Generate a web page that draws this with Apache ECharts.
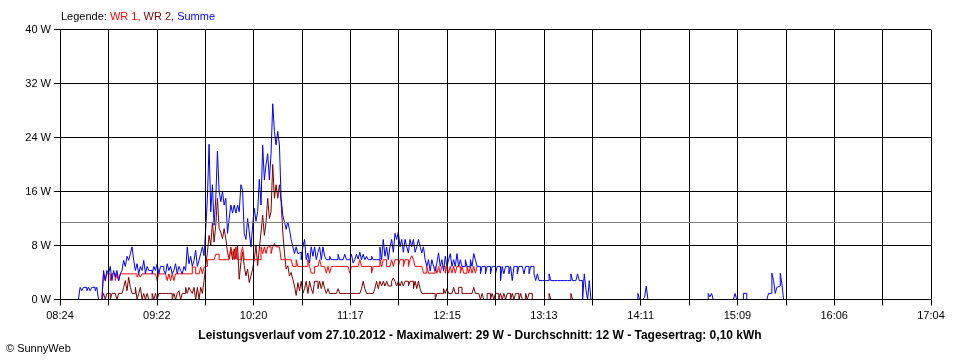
<!DOCTYPE html>
<html>
<head>
<meta charset="utf-8">
<title>Leistungsverlauf</title>
<script src="https://cdn.jsdelivr.net/npm/echarts@6/dist/echarts.min.js"></script>
<style>
  html, body { margin: 0; padding: 0; background: #fff; }
  #chart { width: 960px; height: 360px; }
</style>
</head>
<body>
<div id="chart"></div>
<script>
// ---- axis tick labels (x: every second grid line carries a label) ----
const tickLabels = ['08:24', '09:22', '10:20', '11:17', '12:15', '13:13', '14:11', '15:09', '16:06', '17:04'];
const axisSpanMinutes = 520;   // 08:24 .. 17:04
const gridDivisions = 18;      // vertical grid lines
const yTicks = [0, 8, 16, 24, 32, 40];

// samples: one value per minute, first sample at 08:24 (minute 0)
const sampleStartMinute = 0;
const sampleStepMinutes = 1;

// ---- Summe (blue) ----
const summe = [
  /* m0   */ null,null,null,null,null,null,null,null,null,null,null,0,
  /* m12  */ 1.8,1.3,1.8,1.8,1.3,1.8,1.3,1.8,1.8,1.3,1.8,0,0,0,
  /* m26  */ 4.3,2.8,4.3,3.8,4.9,2.8,4.3,3.3,4.3,2.8,3.8,4.3,5.8,4.9,6.4,5.8,6.8,7.8,
  /* m44  */ 5.8,4.3,5.3,3.8,4.9,4.3,5.8,3.8,4.9,4.3,4.3,3.8,4.9,4.3,5.3,3.8,4.9,
  /* m61  */ 4.9,4.3,3.8,5.3,4.3,4.9,3.8,4.3,5.3,3.8,4.9,4.3,3.8,4.9,4.3,
  /* m76  */ 7.8,5.3,6.4,4.9,5.8,7.3,4.9,5.8,6.8,7.8,
  /* m86  */ 6.5,10.5,15,23,13,17,11,15,22,16,14.5,16,14,15,
  /* m100 */ 9.8,12,14,12.8,14,12.8,14,13,17,16.2,9.8,8.9,
  /* m112 */ 12,10,7.8,11,13.5,11.6,13,17.8,14,22.9,17.7,20,
  /* m124 */ 21.6,17.7,21.6,29,24.9,22.9,24.9,22.9,
  /* m132 */ 15,12.5,11.5,10.4,11.5,10.4,8.9,7.8,6.8,7.8,6.8,
  /* m143 */ 7.0,5.9,7.8,8.9,5.9,6.9,5.4,7.8,6.4,7.8,5.9,7.0,7.8,5.9,7.8,6.4,
  /* m159 */ 5.9,5.9,6.4,5.9,5.9,5.9,5.9,6.7,5.9,5.9,5.9,6.7,5.9,5.9,5.9,
  /* m174 */ 6.7,5.4,5.9,6.7,6.0,7.0,5.9,6.7,5.9,6.4,5.9,5.9,6.4,5.9,5.9,5.9,5.9,
  /* m191 */ 7.8,5.9,8.9,6.4,7.8,5.9,7.8,8.9,7.0,9.8,8.9,10,7.8,
  /* m204 */ 8.9,7.0,8.9,7.8,6.9,8.9,7.8,8.9,7.0,7.8,8.9,7.8,6.9,7.8,
  /* m218 */ 5.9,4.9,5.9,4.2,5.9,4.9,4.2,5.4,6.9,4.9,5.9,4.2,6.4,4.9,5.9,6.8,
  /* m234 */ 4.9,5.9,4.9,6.8,4.9,5.9,4.9,4.9,5.9,4.9,4.9,5.9,4.9,6.8,5.9,4.9,
  /* m250 */ 4.9,3.8,4.9,4.9,3.8,4.9,4.9,3.8,4.9,4.9,3.8,
  /* m261 */ 4.9,4.9,2.8,4.9,3.8,4.9,4.9,3.8,4.9,2.8,4.9,4.9,3.8,4.9,4.9,4.9,3.8,4.9,4.9,3.8,4.9,4.9,
  /* m283 */ 3.8,2.8,3.8,2.8,2.8,
  /* m288 */ 2.8,2.8,2.8,2.8,3.8,2.8,2.8,2.8,2.8,2.8,2.8,2.8,2.8,2.8,2.8,2.8,2.8,3.8,2.8,2.8,2.8,3.8,2.8,2.8,
  /* m312 */ 0,3.8,1.5,0,2.8,0,
  /* m318 */ 0,0,0,0,0,0,0,0,0,0, 0,0,0,0,0,0,0,0,0,0, 0,0,0,0,0,0,0,
  /* m345 */ 0.9,0,0,0,0.3,2,
  /* m351 */ 0,0,0,0,0,0,0,0,0,0, 0,0,0,0,0,0,0,0,0,0, 0,0,0,0,0,0,0,0,0,0, 0,0,0,0,0,0,
  /* m387 */ 0.9,0.4,0.9,
  /* m390 */ 0,0,0,0,0,0,0,0,0,0, 0,0,0,
  /* m403 */ 0.9,0,0,0,0,0.9,0.9,
  /* m410 */ 0,0,0,0,0,0,0,0,0,0, 0,0,0,
  /* m423 */ 0.9,0.9,3.9,2.8,0.9,1.8,2,3.9,2.3,
  /* m432 */ 0
];

// ---- WR 1 (red); from 12:34 on it runs underneath Summe and is not drawn separately ----
const wr1 = [
  /* m0   */ null,null,null,null,null,null,null,null,null,null,null,null,null,null,null,null,null,null,null,null,null,null,null,null,null,0,
  /* m26  */ 3.8,2.8,3.8,3.8,2.8,3.8,3.8,2.8,3.8,2.8,3.8,3.8,
  /* m38  */ 3.8,3.8,3.8,3.8,3.8,3.8,3.8,3.8,3.3,3.8,3.3,3.8,3.8,3.8,3.8,3.8,3.8,3.8,3.8,3.8,2.8,3.8,3.8,
  /* m61  */ 3.8,3.8,3.8,2.8,3.8,2.8,3.8,2.8,3.8,3.8,3.8,3.8,3.8,3.8,3.8,
  /* m76  */ 3.8,3.8,3.8,4.8,4.8,3.8,3.8,3.8,4.8,3.8,4.8,4.9,
  /* m88  */ 5.9,5.9,5.9,5.9,5.9,6.7,6.7,5.9,5.9,5.9,5.9,5.9,
  /* m100 */ 5.9,5.9,7.8,6.8,5.9,7.8,5.9,5.9,6.8,7.8,5.9,5.9,
  /* m112 */ 5.9,5.9,5.9,5.9,5.9,5.9,5.9,5.9,
  /* m120 */ 7.8,6.8,7.8,6.8,7.8,7.8,6.8,7.8,8.3,
  /* m129 */ 7.8,7.8,7.8,5.9,5.9,5.9,5.9,5.9,5.9,5.9,4.9,4.9,5.9,4.9,
  /* m143 */ 4.9,4.9,4.9,4.9,4.9,5.9,4.9,3.9,3.9,4.9,4.9,4.9,5.9,4.9,4.9,4.9,3.9,4.9,3.9,
  /* m162 */ 4.9,4.9,4.9,4.9,4.9,4.9,4.9,4.9,4.9,4.9,4.9,3.9,4.9,
  /* m175 */ 4.9,4.9,4.9,4.9,5.9,4.9,4.9,4.9,4.9,4.9,4.9,3.9,4.9,4.9,4.9,4.9,
  /* m191 */ 5.9,4.9,5.9,5.9,4.9,4.9,4.9,5.9,4.9,5.9,5.9,4.9,
  /* m203 */ 5.9,5.9,4.9,5.9,5.9,4.9,5.9,6.5,5.9,4.9,4.9,4.9,4.9,4.9,
  /* m217 */ 3.9,3.9,4.9,3.9,3.9,3.9,3.9,4.9,3.9,4.9,3.9,4.9,4.9,3.9,4.9,3.9,4.9,
  /* m234 */ 3.9,4.9,3.9,4.9,4.9,3.9,4.9,3.9,3.9,4.9,3.9,4.9,3.9,4.9,3.9,4.9,
  /* m250 */ 4.9
];

// ---- WR 2 (dark red) ----
const wr2 = [
  /* m0   */ null,null,null,null,null,null,null,null,null,null,null,null,null,null,null,null,null,null,null,null,null,null,null,null,null,0,
  /* m26  */ 0.9,0,0.9,0.9,0,0.9,0.9,0.9,0,0.9,0.9,0.9,
  /* m38  */ 1.8,2.8,1.3,3.3,1.8,0.9,0.9,1.8,0,0.9,1.8,0,0.9,
  /* m51  */ 0,0.9,0,0,0.9,0,0.9,0,0.9,0.9,0.9,0.9,0.9,0.9,0.9,0.9,
  /* m67  */ 0,0.9,0,0.9,1.3,0,0.9,0.9,1.8,0.9,1.8,1.3,0.9,1.8,0,1.8,0,
  /* m84  */ 1.8,0.9,2.8,5,7,9.5,8,11.5,8.5,11,15,10.5,10,9,10.5,9,
  /* m100 */ 7,6,7.5,5.9,7.5,6,8,3,5.5,7,5,3.5,4.5,2.5,3.5,4.5,
  /* m116 */ 6,8,5,7.5,10,12.5,9.5,11.5,15,12,13,20,15,17,15,17,
  /* m132 */ 14.5,10,7,4.5,5,3.5,4,3,2,0.6,2.5,1.3,
  /* m144 */ 2.7,0.9,1.6,2.7,0.9,2.7,1.6,0.9,2.7,2.7,1.6,2.7,1.6,2.7,1.6,0.9,1.6,0.9,
  /* m162 */ 0.9,0.9,0.9,0.9,1.6,0.9,0.9,0.9,0.9,0.9,0.9,0.9,0.9,0.9,0.9,0.9,0.9,0.9,
  /* m180 */ 1.6,2.7,1.6,0.9,0.9,0.9,0.9,0.9,1.6,2.7,1.6,
  /* m191 */ 2.7,2.0,2.7,2.0,2.7,2.0,2.0,2.7,3.2,2.7,2.0,2.7,2.0,2.7,2.0,2.7,2.7,2.0,2.7,
  /* m210 */ 2.7,1.6,2.7,1.6,2.7,1.6,0.9,0.9,
  /* m218 */ 0.9,0.9,0.9,0.9,0.9,0.9,0,0.9,0.9,0.9,0.9,1.6,0.9,1.6,0.9,0.9,
  /* m234 */ 0.9,1.8,0.9,0.9,1.8,1.8,0.9,0.9,0.9,0.9,0.9,0.9,0.9,1.8,0.9,0.9,
  /* m250 */ 0.9,0,0.9,0,0,0.9,0.9,0,0.9,0,0.9,0.9,0,0.9,0,0.9,0,0.9,0.9,0,0.9,0,0.9,0.9,0,0.9,0,0,0.9,0,0.9,0.9,0,
  /* m283 */ 0,0,0,0,0,0,0,0,0,0.9,0,0,0,0,0,0,0,0,0,0,0,0,0.9,0,0,0,0,0,0
];

// average line (gray) in W
const averageLineW = 11.4;

const legendText = '{k|Legende:} {r|WR 1,} {d|WR 2,} {b|Summe}';
const footerText = 'Leistungsverlauf vom 27.10.2012 - Maximalwert: 29 W - Durchschnitt: 12 W - Tagesertrag: 0,10 kWh';
const creditText = '\u00A9 SunnyWeb';

function toPoints(arr) {
  return arr.map((v, i) => [sampleStartMinute + i * sampleStepMinutes, v]);
}

const FONT = "'Liberation Sans', Arial, sans-serif";
const chart = echarts.init(document.getElementById('chart'), null, { renderer: 'canvas' });

const stepSize = axisSpanMinutes / gridDivisions;

chart.setOption({
  animation: false,
  backgroundColor: '#ffffff',
  textStyle: { fontFamily: FONT },
  title: [
    {
      text: legendText, left: 61, top: 11, padding: 0,
      textStyle: {
        fontSize: 11, fontWeight: 'normal', fontFamily: FONT,
        rich: {
          k: { color: '#000000', fontSize: 11, fontFamily: FONT },
          r: { color: '#ff0000', fontSize: 11, fontFamily: FONT },
          d: { color: '#800000', fontSize: 11, fontFamily: FONT },
          b: { color: '#0000ff', fontSize: 11, fontFamily: FONT }
        }
      }
    },
    {
      text: footerText, left: 'center', top: 330, padding: 0,
      textStyle: { fontSize: 12, fontWeight: 'bold', color: '#000', fontFamily: FONT }
    },
    {
      text: creditText, left: 6, top: 343, padding: 0,
      textStyle: { fontSize: 11, fontWeight: 'normal', color: '#000', fontFamily: FONT }
    }
  ],
  grid: { left: 60, right: 29, top: 29.5, bottom: 60.5, containLabel: false },
  xAxis: {
    type: 'value', min: 0, max: axisSpanMinutes, interval: stepSize, z: 5,
    axisLine: { show: true, onZero: false, lineStyle: { color: '#000', width: 1 } },
    axisTick: { show: true, length: 6, lineStyle: { color: '#000', width: 1 } },
    splitLine: { show: true, lineStyle: { color: '#000', width: 1 } },
    axisLabel: {
      color: '#000', fontSize: 11, margin: 11, fontFamily: FONT,
      formatter: function (v) {
        const k = Math.round(v / stepSize);
        return k % 2 === 0 ? tickLabels[k / 2] : '';
      }
    }
  },
  yAxis: {
    type: 'value', min: yTicks[0], max: yTicks[yTicks.length - 1], interval: yTicks[1] - yTicks[0], z: 5,
    axisLine: { show: true, lineStyle: { color: '#000', width: 1 } },
    axisTick: { show: true, length: 6, lineStyle: { color: '#000', width: 1 } },
    splitLine: { show: true, lineStyle: { color: '#000', width: 1 } },
    axisLabel: { color: '#000', fontSize: 11, margin: 9, fontFamily: FONT, formatter: '{value} W' }
  },
  series: [
    {
      name: 'WR 2', type: 'line', step: 'end', data: toPoints(wr2),
      showSymbol: false, symbol: 'none', silent: true, z: 2,
      lineStyle: { color: '#800000', width: 1 }, itemStyle: { color: '#800000' }
    },
    {
      name: 'WR 1', type: 'line', step: 'end', data: toPoints(wr1),
      showSymbol: false, symbol: 'none', silent: true, z: 2,
      lineStyle: { color: '#ff0000', width: 1 }, itemStyle: { color: '#ff0000' }
    },
    {
      name: 'Summe', type: 'line', step: 'end', data: toPoints(summe),
      showSymbol: false, symbol: 'none', silent: true, z: 2,
      lineStyle: { color: '#0000ff', width: 1 }, itemStyle: { color: '#0000ff' },
      markLine: {
        silent: true, symbol: ['none', 'none'], animation: false,
        label: { show: false },
        lineStyle: { color: '#808080', width: 1, type: 'solid' },
        data: [{ yAxis: averageLineW }]
      }
    }
  ]
});
</script>
</body>
</html>
